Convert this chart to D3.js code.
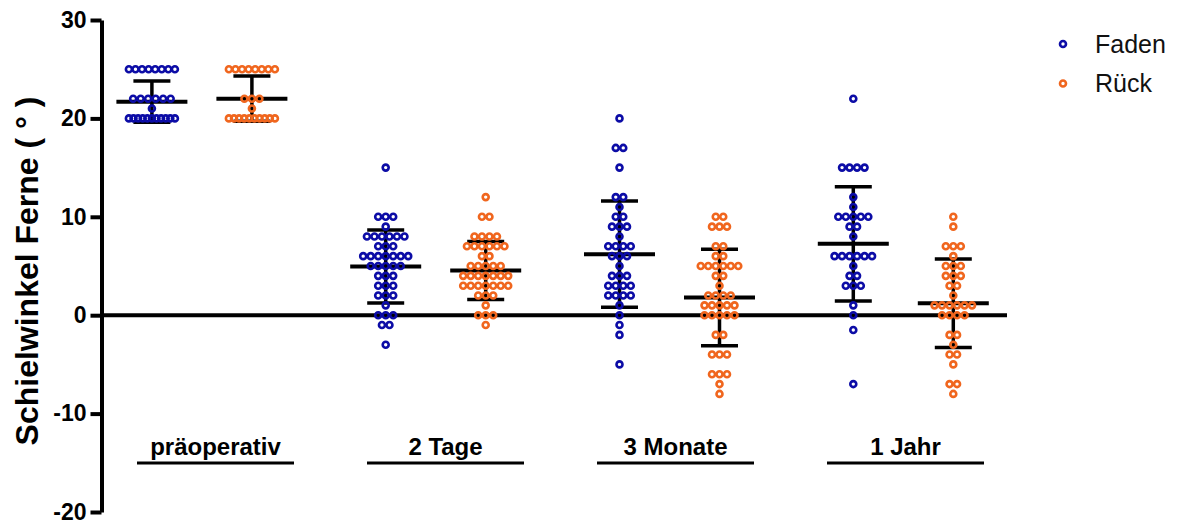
<!DOCTYPE html>
<html>
<head>
<meta charset="utf-8">
<script src="https://cdn.jsdelivr.net/npm/d3@7"></script>
<style>
  body { margin: 0; background: #fff; }
  svg { display: block; }
  text { font-family: "Liberation Sans", Arial, sans-serif; }
</style>
</head>
<body>
<svg id="chart" width="1177" height="521"></svg>
<script>
// Time points and the two surgical techniques
const groups = ["präoperativ", "2 Tage", "3 Monate", "1 Jahr"];
const seriesNames = ["Faden", "Rück"];

// Individual squint angles (degrees) per patient, one list per time point
const fadenValues = [
  [25, 25, 25, 25, 25, 25, 25, 25, 22, 22, 22, 22, 22, 22, 21,
   20, 20, 20, 20, 20, 20, 20, 20, 20, 20, 20],
  [15, 10, 10, 10, 9, 8, 8, 8, 8, 8, 8, 7, 7, 7, 6, 6, 6, 6, 6, 6, 6,
   5, 5, 5, 5, 5, 4, 4, 4, 3, 3, 3, 2, 2, 2, 1, 0, 0, 0, -1, -1, -3],
  [20, 17, 17, 15, 12, 12, 11, 10, 10, 9, 9, 9, 8, 7, 7, 7, 7, 6, 6, 6,
   5, 4, 4, 4, 3, 3, 3, 3, 2, 2, 2, 2, 1, 0, -1, -2, -5],
  [22, 15, 15, 15, 15, 12, 11, 10, 10, 10, 10, 10, 9, 9, 8, 6, 6, 6, 6, 6, 6,
   5, 4, 4, 3, 3, 3, 1, 0, -1.5, -7]
];
const rueckValues = [
  [25, 25, 25, 25, 25, 25, 25, 25, 22, 22, 22, 21,
   20, 20, 20, 20, 20, 20, 20, 20, 20, 20],
  [12, 10, 10, 8, 8, 8, 8, 7, 7, 7, 7, 7, 7, 6, 6, 5, 5, 5, 5, 5,
   4, 4, 4, 4, 4, 4, 4, 3, 3, 3, 3, 3, 3, 3, 2, 2, 2, 1, 0, 0, 0, -1],
  [10, 10, 9, 9, 9, 7, 7, 6, 6, 5, 5, 5, 5, 5, 5, 4, 4, 3, 2, 2, 2, 2,
   1, 1, 1, 1, 1, 0, 0, 0, 0, 0, -2, -2, -4, -4, -4, -6, -6, -6, -7, -8],
  [10, 9, 7, 7, 7, 6, 5, 5, 5, 4, 4, 4, 3, 3, 2, 1, 1, 1, 1, 1, 1,
   0, 0, 0, 0, -2, -2, -3, -4, -4, -5, -7, -7, -8]
];

// Mean and standard deviation per time point
const fadenMean = [21.7, 4.95, 6.2, 7.25];
const fadenSD = [2.1, 3.7, 5.4, 5.8];
const rueckMean = [22.0, 4.55, 1.8, 1.22];
const rueckSD = [2.3, 2.95, 4.9, 4.5];

const yTicks = [30, 20, 10, 0, -10, -20];
const yTitle = "Schielwinkel Ferne ( ° )";

const colors = { "Faden": "#0c0ca6", "Rück": "#f0661e" };

const svg = d3.select("#chart");

const y = d3.scaleLinear().domain([-20, 30]).range([512, 20]);
const xGroup = d3.scaleBand().domain(groups).range([85, 1020.2]);
const xSeries = d3.scalePoint().domain(seriesNames).range([-50, 50]);
const xLabel = d3.scaleBand().domain(groups).range([100.5, 1020.5]);

const colX = (g, s) => xGroup(g) + xGroup.bandwidth() / 2 + xSeries(s);

const columns = [];
groups.forEach((g, i) => {
  columns.push({ group: g, series: "Faden", values: fadenValues[i], mean: fadenMean[i], sd: fadenSD[i] });
  columns.push({ group: g, series: "Rück", values: rueckValues[i], mean: rueckMean[i], sd: rueckSD[i] });
});

// Zero reference line
svg.append("line")
  .attr("x1", 102).attr("x2", 1007)
  .attr("y1", y(0)).attr("y2", y(0))
  .attr("stroke", "#000").attr("stroke-width", 4);

// Mean ± SD bars (drawn beneath the open symbols)
const bars = svg.append("g").attr("stroke", "#000");
columns.forEach(c => {
  const cx = colX(c.group, c.series);
  const top = y(c.mean + c.sd), bot = y(c.mean - c.sd);
  bars.append("line").attr("x1", cx).attr("x2", cx).attr("y1", top).attr("y2", bot).attr("stroke-width", 3.5);
  bars.append("line").attr("x1", cx - 18.5).attr("x2", cx + 18.5).attr("y1", top).attr("y2", top).attr("stroke-width", 3.5);
  bars.append("line").attr("x1", cx - 18.5).attr("x2", cx + 18.5).attr("y1", bot).attr("y2", bot).attr("stroke-width", 3.5);
  bars.append("line").attr("x1", cx - 35.5).attr("x2", cx + 35.5).attr("y1", y(c.mean)).attr("y2", y(c.mean)).attr("stroke-width", 4);
});

// Scatter rows: identical values share a row, spread symmetrically
function layoutColumn(values, cx) {
  const rows = d3.group(values, v => v);
  const pts = [];
  for (const [v, arr] of rows) {
    const n = arr.length;
    const step = n > 1 ? Math.min(7.5, 46 / (n - 1)) : 0;
    arr.forEach((_, i) => pts.push({ v, x: cx + (i - (n - 1) / 2) * step }));
  }
  return pts;
}

columns.forEach(c => {
  const pts = layoutColumn(c.values, colX(c.group, c.series));
  svg.append("g")
    .selectAll("circle").data(pts).join("circle")
    .attr("cx", d => d.x).attr("cy", d => y(d.v)).attr("r", 3)
    .attr("fill", "none").attr("stroke", colors[c.series]).attr("stroke-width", 2.6);
});

// Y axis
const yAxis = svg.append("g").attr("transform", "translate(101.5,0)")
  .call(d3.axisLeft(y).tickValues(yTicks).tickSize(11).tickSizeOuter(0).tickPadding(4)
    .tickFormat(d => String(d)));
yAxis.select(".domain").attr("stroke-width", 4).attr("stroke", "#000");
yAxis.selectAll(".tick line").attr("stroke-width", 4).attr("stroke", "#000");
yAxis.selectAll(".tick text")
  .attr("font-size", 23).attr("font-weight", "bold").attr("fill", "#000")
  .style("font-family", "'Liberation Sans', Arial, sans-serif");

// Y axis title
svg.append("text")
  .attr("transform", "translate(38,271) rotate(-90)")
  .attr("text-anchor", "middle")
  .attr("font-size", 32).attr("font-weight", "bold").attr("fill", "#000")
  .text(yTitle);

// Group labels with underline
const labels = svg.append("g");
groups.forEach(g => {
  const cx = xLabel(g) + xLabel.bandwidth() / 2;
  labels.append("text").attr("x", cx).attr("y", 455)
    .attr("text-anchor", "middle").attr("font-size", 24).attr("font-weight", "bold").attr("fill", "#000")
    .text(g);
  labels.append("line").attr("x1", cx - 78.5).attr("x2", cx + 78.5)
    .attr("y1", 463).attr("y2", 463).attr("stroke", "#000").attr("stroke-width", 3);
});

// Legend
const legend = svg.append("g");
seriesNames.forEach((s, i) => {
  const ly = 44 + i * 39.5;
  legend.append("circle").attr("cx", 1063).attr("cy", ly).attr("r", 3)
    .attr("fill", "none").attr("stroke", colors[s]).attr("stroke-width", 2.6);
  legend.append("text").attr("x", 1095).attr("y", ly + 8.5)
    .attr("font-size", 25).attr("fill", "#111").text(s);
});
</script>
</body>
</html>
